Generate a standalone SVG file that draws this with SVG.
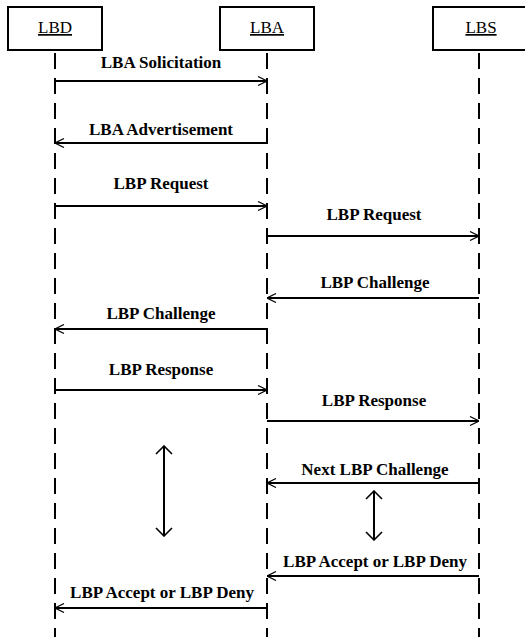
<svg xmlns="http://www.w3.org/2000/svg" width="525" height="637" viewBox="0 0 525 637">
<style>
.box{fill:#fff;stroke:#000;stroke-width:2}
.name{font-family:"Liberation Serif","Times New Roman",serif;font-size:17px;text-anchor:middle;text-decoration:underline;fill:#000}
.life{stroke:#000;stroke-width:2;stroke-dasharray:16 9;fill:none}
.msg{stroke:#000;stroke-width:2;fill:none}
.lbl{font-family:"Liberation Serif","Times New Roman",serif;font-size:17px;font-weight:bold;text-anchor:middle;fill:#000}
</style>
<defs>
<marker id="ah" viewBox="0 0 10 10" refX="10" refY="5" markerWidth="10" markerHeight="10" markerUnits="userSpaceOnUse" orient="auto-start-reverse">
<path d="M1,0.5 L10,5 L1,9.5" fill="none" stroke="#000" stroke-width="1.2"/>
</marker>
<marker id="dh" viewBox="0 0 10 18" refX="9" refY="9" markerWidth="10" markerHeight="18" markerUnits="userSpaceOnUse" orient="auto-start-reverse">
<path d="M1,1 L9,9 L1,17" fill="none" stroke="#000" stroke-width="1.6"/>
</marker>
</defs>
<g id="lifelines">
<line class="life" x1="55" y1="53" x2="55" y2="637"/>
<line class="life" x1="267" y1="53" x2="267" y2="637"/>
<line class="life" x1="479" y1="53" x2="479" y2="637"/>
</g>
<g id="LBD"><rect class="box" x="8" y="7" width="94" height="43"/><text class="name" x="55" y="33">LBD</text></g>
<g id="LBA"><rect class="box" x="220" y="7" width="94" height="43"/><text class="name" x="267" y="33">LBA</text></g>
<g id="LBS"><rect class="box" x="433" y="7" width="94" height="43"/><text class="name" x="481" y="33">LBS</text></g>
<g id="connectors">
<line class="msg" x1="55" y1="81" x2="267" y2="81" marker-end="url(#ah)"/>
<line class="msg" x1="267" y1="143" x2="55" y2="143" marker-end="url(#ah)"/>
<line class="msg" x1="55" y1="206" x2="267" y2="206" marker-end="url(#ah)"/>
<line class="msg" x1="267" y1="236" x2="479" y2="236" marker-end="url(#ah)"/>
<line class="msg" x1="479" y1="298" x2="267" y2="298" marker-end="url(#ah)"/>
<line class="msg" x1="267" y1="329" x2="55" y2="329" marker-end="url(#ah)"/>
<line class="msg" x1="55" y1="390" x2="267" y2="390" marker-end="url(#ah)"/>
<line class="msg" x1="267" y1="421" x2="479" y2="421" marker-end="url(#ah)"/>
<line class="msg" x1="479" y1="483" x2="267" y2="483" marker-end="url(#ah)"/>
<line class="msg" x1="479" y1="576" x2="267" y2="576" marker-end="url(#ah)"/>
<line class="msg" x1="267" y1="608" x2="55" y2="608" marker-end="url(#ah)"/>
<line class="msg" x1="164" y1="446" x2="164" y2="536" marker-start="url(#dh)" marker-end="url(#dh)"/>
<line class="msg" x1="374" y1="491" x2="374" y2="540" marker-start="url(#dh)" marker-end="url(#dh)"/>
</g>
<g id="labels">
<text class="lbl" x="161" y="68">LBA Solicitation</text>
<text class="lbl" x="161" y="135">LBA Advertisement</text>
<text class="lbl" x="161" y="189">LBP Request</text>
<text class="lbl" x="374" y="220">LBP Request</text>
<text class="lbl" x="375" y="288">LBP Challenge</text>
<text class="lbl" x="161" y="319">LBP Challenge</text>
<text class="lbl" x="161" y="375">LBP Response</text>
<text class="lbl" x="374" y="406">LBP Response</text>
<text class="lbl" x="375" y="475">Next LBP Challenge</text>
<text class="lbl" x="375" y="567">LBP Accept or LBP Deny</text>
<text class="lbl" x="162" y="598">LBP Accept or LBP Deny</text>
</g>
</svg>
